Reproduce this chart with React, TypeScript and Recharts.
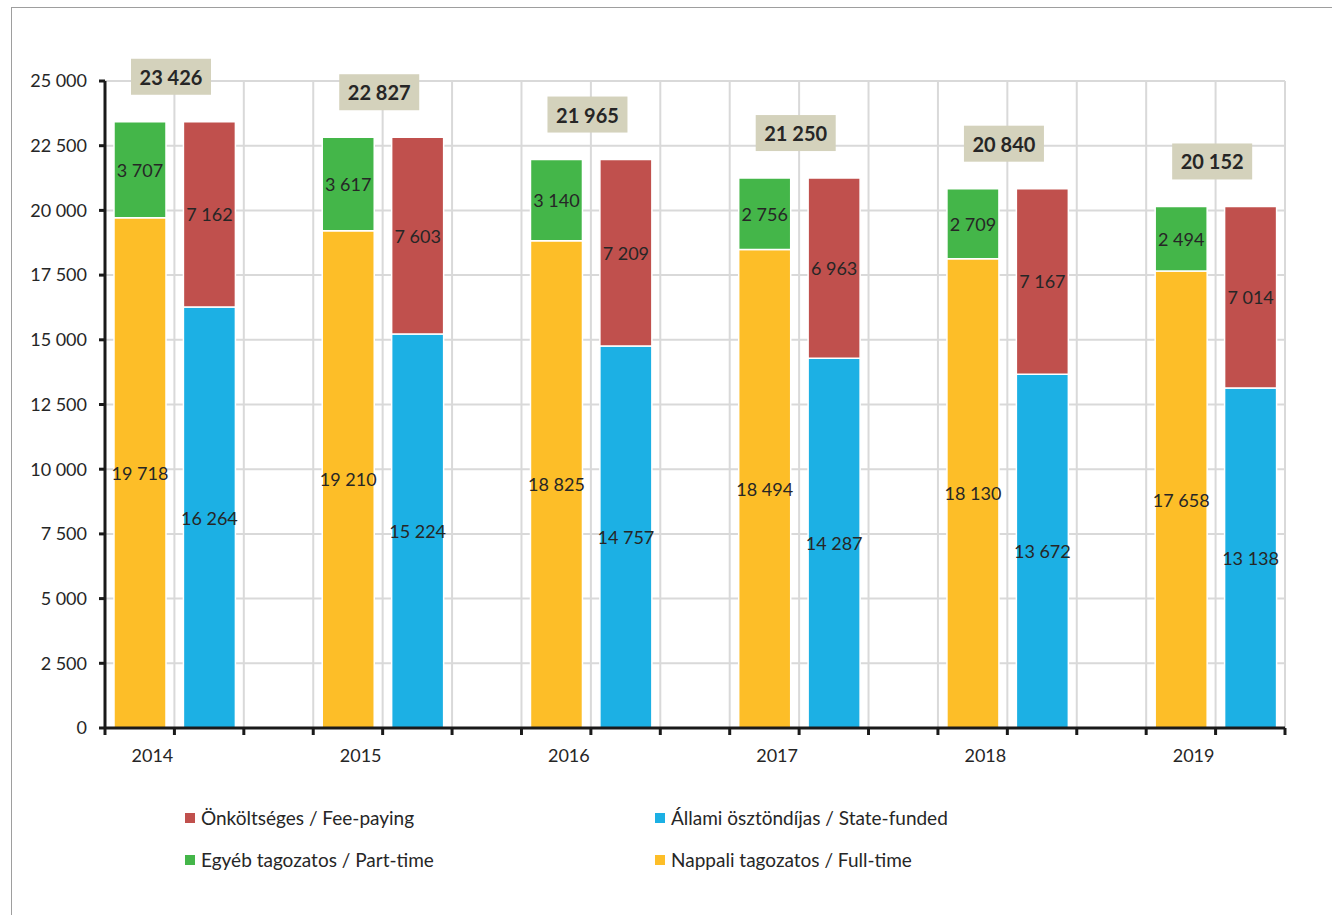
import { BarChart, Bar, XAxis, YAxis, CartesianGrid, LabelList } from "recharts";

const years = ["2014", "2015", "2016", "2017", "2018", "2019"];
const fullTime = [19718, 19210, 18825, 18494, 18130, 17658];
const partTime = [3707, 3617, 3140, 2756, 2709, 2494];
const stateFunded = [16264, 15224, 14757, 14287, 13672, 13138];
const feePaying = [7162, 7603, 7209, 6963, 7167, 7014];
const totals = [23426, 22827, 21965, 21250, 20840, 20152];
const yTicks = [0, 2500, 5000, 7500, 10000, 12500, 15000, 17500, 20000, 22500, 25000];

const names = {
  fee: "Önköltséges / Fee-paying",
  state: "Állami ösztöndíjas / State-funded",
  part: "Egyéb tagozatos / Part-time",
  full: "Nappali tagozatos / Full-time",
};

const colors = { full: "#FDBE28", part: "#44B649", state: "#1CB0E4", fee: "#C0504D" };

// each year: left bar (full/part-time), right bar (state/fee), then an empty slot
const rows = years.flatMap((y, i) => {
  const out: any[] = [
    { key: y + "a", pos: i * 3, full: fullTime[i], part: partTime[i], total: totals[i] },
    { key: y + "b", pos: i * 3 + 1, state: stateFunded[i], fee: feePaying[i] },
  ];
  if (i < years.length - 1) out.push({ key: y + "c", pos: i * 3 + 2 });
  return out;
});
const slotTicks = Array.from({ length: rows.length + 1 }, (_, i) => i);

const fmt = (v: number) => String(v).replace(/\B(?=(\d{3})+(?!\d))/g, " ");

const FONT = "Lato, 'Open Sans', sans-serif";
const TEXT = "#262626";

const SegLabel = (props: any) => {
  const { x, y, width, height, value } = props;
  if (!value) return null;
  return (
    <text
      x={x + width / 2}
      y={y + height / 2}
      textAnchor="middle"
      dominantBaseline="central"
      fontSize={18}
      fill={TEXT}
    >
      {fmt(value)}
    </text>
  );
};

const TotalLabel = (props: any) => {
  const { x, y, width, value } = props;
  if (!value) return null;
  const cx = x + width + 5;
  const bottom = y - 27;
  return (
    <g>
      <rect x={cx - 40} y={bottom - 36} width={80} height={36} fill="#D4D2BC" />
      <text
        x={cx}
        y={bottom - 18}
        textAnchor="middle"
        dominantBaseline="central"
        fontSize={20}
        fontWeight="bold"
        fill={TEXT}
      >
        {fmt(value)}
      </text>
    </g>
  );
};

const YearTick = (props: any) => {
  const { x, y, payload } = props;
  if (payload.value % 3 !== 1) return null;
  const year = years[(payload.value - 1) / 3];
  return (
    <text x={x - 22} y={y + 25} textAnchor="middle" fontSize={18} fill={TEXT}>
      {year}
    </text>
  );
};

const legendItems = [
  { key: "fee", left: 185, top: 818 },
  { key: "state", left: 655, top: 818 },
  { key: "part", left: 185, top: 860 },
  { key: "full", left: 655, top: 860 },
] as const;

export default function App() {
  return (
    <div style={{ position: "absolute", left: 0, top: 0, width: 1332, height: 915, background: "#fff", fontFamily: FONT }}>
      <div
        style={{
          position: "absolute",
          left: 11,
          top: 7,
          right: 0,
          bottom: 0,
          borderTop: "1.5px solid #9E9E9E",
          borderLeft: "1.5px solid #9E9E9E",
        }}
      />
      <div style={{ position: "absolute", left: 0, top: 0 }}>
        <BarChart
          width={1332}
          height={915}
          data={rows}
          margin={{ top: 81, right: 47, bottom: 147, left: 35 }}
          style={{ fontFamily: FONT }}
        >
          <CartesianGrid xAxisId="num" stroke="#D9D9D9" strokeWidth={2} />
          <XAxis xAxisId="cat" dataKey="key" hide height={0} />
          <XAxis
            xAxisId="num"
            dataKey="pos"
            type="number"
            domain={[0, rows.length]}
            ticks={slotTicks}
            interval={0}
            allowDataOverflow
            height={40}
            axisLine={{ stroke: "#1A1A1A", strokeWidth: 3 }}
            tickLine={{ stroke: "#1A1A1A", strokeWidth: 3 }}
            tickSize={7}
            tick={<YearTick />}
          />
          <YAxis
            domain={[0, 25000]}
            ticks={yTicks}
            interval={0}
            width={70}
            tickFormatter={fmt}
            axisLine={{ stroke: "#1A1A1A", strokeWidth: 3 }}
            tickLine={{ stroke: "#1A1A1A", strokeWidth: 3 }}
            tickSize={6}
            tickMargin={12}
            tick={{ fontSize: 18, fill: TEXT }}
          />
          <Bar xAxisId="cat" dataKey="full" stackId="s" barSize={52} fill={colors.full} stroke="#fff" strokeWidth={1.5} isAnimationActive={false}>
            <LabelList dataKey="full" content={<SegLabel />} />
          </Bar>
          <Bar xAxisId="cat" dataKey="part" stackId="s" barSize={52} fill={colors.part} stroke="#fff" strokeWidth={1.5} isAnimationActive={false}>
            <LabelList dataKey="part" content={<SegLabel />} />
            <LabelList dataKey="total" content={<TotalLabel />} />
          </Bar>
          <Bar xAxisId="cat" dataKey="state" stackId="s" barSize={52} fill={colors.state} stroke="#fff" strokeWidth={1.5} isAnimationActive={false}>
            <LabelList dataKey="state" content={<SegLabel />} />
          </Bar>
          <Bar xAxisId="cat" dataKey="fee" stackId="s" barSize={52} fill={colors.fee} stroke="#fff" strokeWidth={1.5} isAnimationActive={false}>
            <LabelList dataKey="fee" content={<SegLabel />} />
          </Bar>
        </BarChart>
      </div>
      {legendItems.map((it) => (
        <div
          key={it.key}
          style={{
            position: "absolute",
            left: it.left,
            top: it.top - 12,
            display: "flex",
            alignItems: "center",
            fontSize: 19,
            color: TEXT,
            whiteSpace: "nowrap",
            lineHeight: "24px",
          }}
        >
          <span style={{ display: "inline-block", width: 10, height: 10, background: colors[it.key], marginRight: 6 }} />
          {names[it.key]}
        </div>
      ))}
    </div>
  );
}
